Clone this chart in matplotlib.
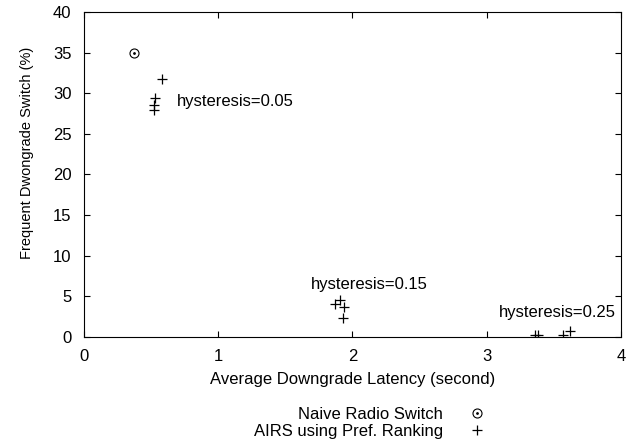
import matplotlib
matplotlib.use("Agg")
import matplotlib.pyplot as plt

plt.rcParams['font.family'] = ['Liberation Sans', 'DejaVu Sans']
plt.rcParams['font.size'] = 12

# latency (s) vs. frequent downgrade switch (%)
naive_x = [0.37]
naive_y = [35.0]

airs_x = [0.58, 0.53, 0.52, 0.52,
          1.87, 1.91, 1.94, 1.93,
          3.36, 3.38, 3.57, 3.62]
airs_y = [31.7, 29.4, 28.6, 27.9,
          4.0, 4.5, 3.7, 2.3,
          0.25, 0.25, 0.25, 0.75]

labels = ["hysteresis=0.05", "hysteresis=0.15", "hysteresis=0.25"]
label_x = [0.69, 1.69, 3.09]
label_y = [29.0, 6.5, 2.95]

fig = plt.figure(figsize=(6.31, 4.45), dpi=100)
ax = fig.add_axes([0.133, 0.243, 0.851, 0.730])

circ_style = dict(linestyle='none', marker='o', markersize=6.5,
                  markerfacecolor='none', markeredgecolor='black',
                  markeredgewidth=0.8)
dot_style = dict(linestyle='none', marker='.', markersize=2, color='black')
plus_style = dict(linestyle='none', marker='+', markersize=7,
                  markeredgewidth=0.9, color='black')

ax.plot(naive_x, naive_y, **circ_style)
ax.plot(naive_x, naive_y, **dot_style)
ax.plot(airs_x, airs_y, **plus_style)

for t, x, y in zip(labels, label_x, label_y):
    ax.text(x, y, t, va='center', ha='left')

ax.set_xlim(0, 4)
ax.set_ylim(0, 40)
ax.set_xticks([0, 1, 2, 3, 4])
ax.set_yticks(range(0, 41, 5))
ax.tick_params(direction='in', top=True, right=True, length=4, width=0.8)
ax.tick_params(axis='x', pad=8.5)
ax.tick_params(axis='y', pad=9)
for s in ax.spines.values():
    s.set_linewidth(0.8)

ax.set_xlabel("Average Downgrade Latency (second)", labelpad=6)
ax.set_ylabel("Frequent Dwongrade Switch (%)", fontsize=10.5)
ax.yaxis.set_label_coords(-0.093, 0.566)

h_circ = ax.plot([], [], **circ_style)[0]
h_dot = ax.plot([], [], **dot_style)[0]
h_plus = ax.plot([], [], **plus_style)[0]
fig.legend([(h_circ, h_dot), h_plus],
           ["Naive Radio Switch", "AIRS using Pref. Ranking"],
           loc='upper right', bbox_to_anchor=(0.793, 0.119), frameon=False,
           markerfirst=False, handlelength=1.0, handletextpad=1.54,
           labelspacing=0.1)

fig.savefig("out.png", dpi=100)
